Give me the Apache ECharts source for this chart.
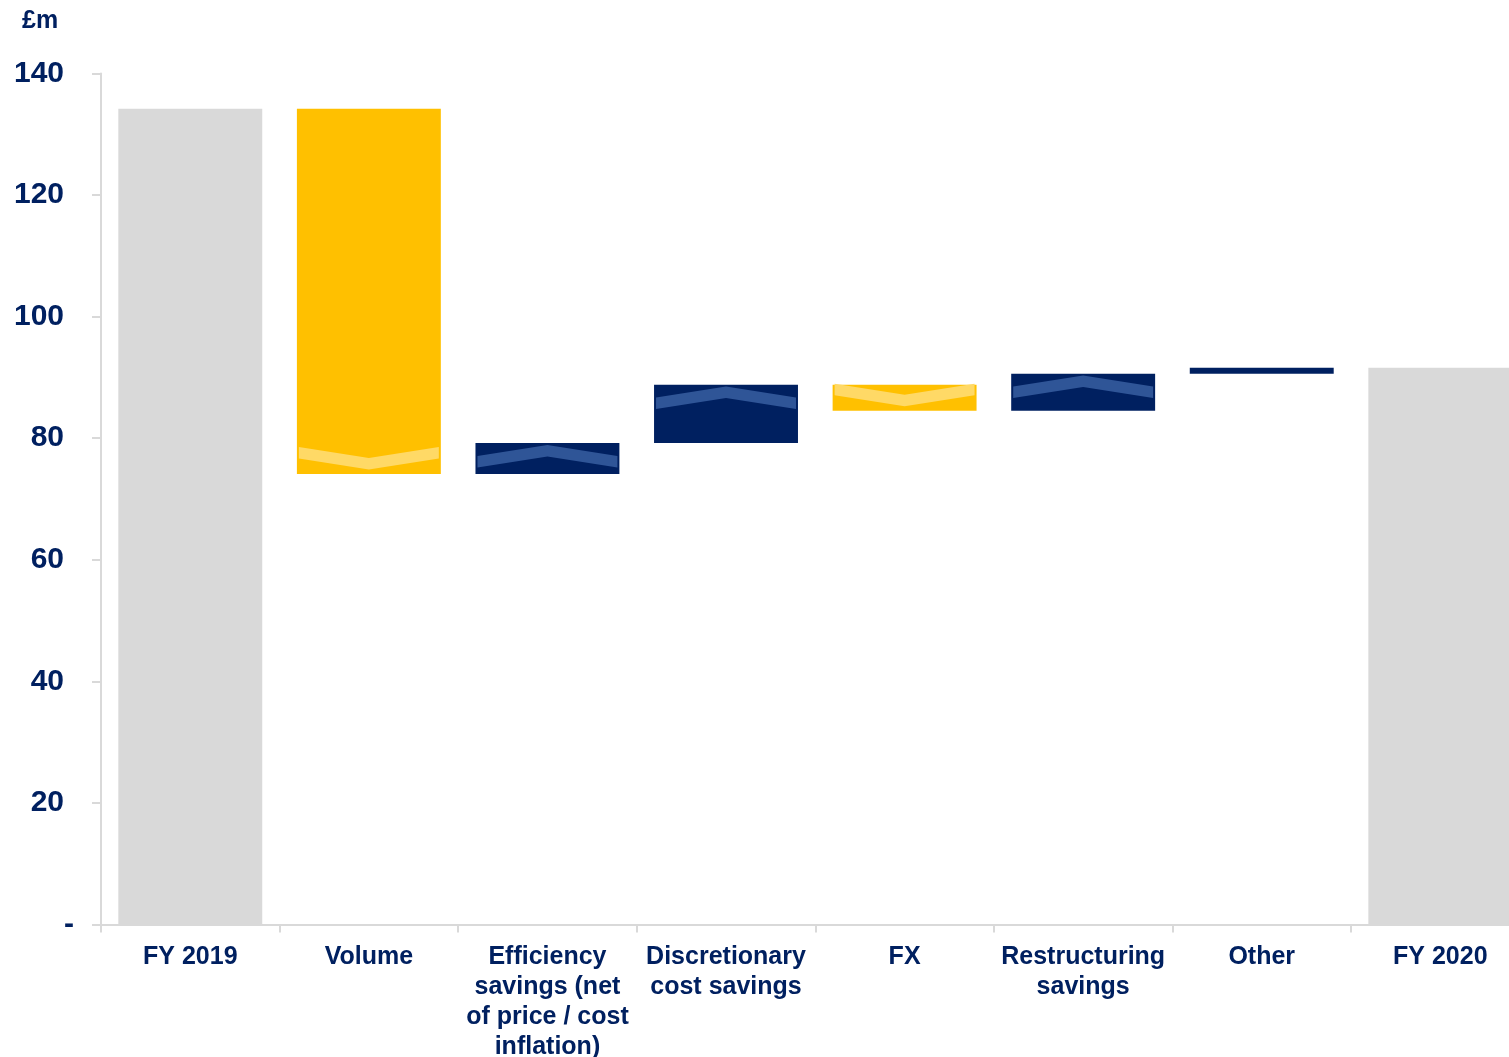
<!DOCTYPE html>
<html>
<head>
<meta charset="utf-8">
<script src="https://cdn.jsdelivr.net/npm/echarts@6/dist/echarts.min.js"></script>
<style>
  html, body { margin: 0; padding: 0; background: #ffffff; }
  #chart { width: 1509px; height: 1057px; }
</style>
</head>
<body>
<div id="chart"></div>
<script>
// ---- Data ----
const categories = [
  'FY 2019',
  'Volume',
  'Efficiency\nsavings (net\nof price / cost\ninflation)',
  'Discretionary\ncost savings',
  'FX',
  'Restructuring\nsavings',
  'Other',
  'FY 2020'
];
const startTotal = 134.2;                          // FY 2019
const changes = [-60.1, 5.1, 9.6, -4.3, 6.1, 1.0]; // Volume .. Other
const endTotal = 91.6;                             // FY 2020
const yTicks = { min: 0, max: 140, interval: 20 };
const unitLabel = '£m';

// ---- Build waterfall rows [index, low, high, kind] ----
const rows = [];
rows.push([0, 0, startTotal, 'total']);
let run = startTotal;
changes.forEach((c, i) => {
  const next = run + c;
  rows.push([i + 1, Math.min(run, next), Math.max(run, next), c < 0 ? 'neg' : 'pos']);
  run = next;
});
rows.push([categories.length - 1, 0, endTotal, 'total']);

const NAVY = '#002060';
const YELLOW = '#FFC000';
const GREY = '#D9D9D9';
const fillFor = { total: GREY, neg: YELLOW, pos: NAVY };
const chevFor = { neg: '#FFD966', pos: '#2F5597' };
const FONT = 'Liberation Sans, Arial, sans-serif';

function renderItem(params, api) {
  const idx = api.value(0);
  const lo = api.value(1);
  const hi = api.value(2);
  const kind = rows[params.dataIndex][3];
  const pTop = api.coord([idx, hi]);
  const pBot = api.coord([idx, lo]);
  const w = api.size([1, 0])[0] * 0.806;
  const left = pTop[0] - w / 2;
  const right = pTop[0] + w / 2;
  const top = pTop[1];
  const bottom = pBot[1];
  const children = [{
    type: 'rect',
    shape: { x: left, y: top, width: w, height: bottom - top },
    style: { fill: fillFor[kind] }
  }];
  if (kind !== 'total' && bottom - top > 20) {
    const x0 = left + 2, x1 = right - 2, xc = pTop[0];
    const d = 11, t = 11.5;
    let pts;
    if (kind === 'pos') {
      const yt = top + 1.8;
      pts = [[x0, yt + d], [xc, yt], [x1, yt + d], [x1, yt + d + t], [xc, yt + t], [x0, yt + d + t]];
    } else {
      const yb = bottom - 4.5;
      pts = [[x0, yb - d - t], [xc, yb - t], [x1, yb - d - t], [x1, yb - d], [xc, yb], [x0, yb - d]];
    }
    children.push({
      type: 'polygon',
      shape: { points: pts },
      style: { fill: chevFor[kind] }
    });
  }
  return { type: 'group', children };
}

const chart = echarts.init(document.getElementById('chart'), null, { renderer: 'canvas' });
chart.setOption({
  animation: false,
  backgroundColor: '#ffffff',
  title: {
    text: unitLabel,
    left: 17,
    top: 4,
    textStyle: { color: NAVY, fontSize: 25, fontWeight: 'bold', fontFamily: FONT }
  },
  grid: {
    left: 101,
    right: -20.6,
    top: 73.5,
    bottom: 132.5,
    containLabel: false,
    outerBoundsMode: 'none'
  },
  xAxis: {
    type: 'category',
    data: categories,
    boundaryGap: true,
    axisLine: { show: true, lineStyle: { color: GREY, width: 2 } },
    axisTick: { show: true, length: 8, alignWithLabel: false, lineStyle: { color: GREY, width: 2 } },
    axisLabel: {
      interval: 0,
      color: NAVY,
      fontSize: 25,
      fontWeight: 'bold',
      fontFamily: FONT,
      lineHeight: 30,
      margin: 18,
      align: 'center'
    },
    splitLine: { show: false }
  },
  yAxis: {
    type: 'value',
    min: yTicks.min,
    max: yTicks.max,
    interval: yTicks.interval,
    axisLine: { show: true, lineStyle: { color: GREY, width: 2 } },
    axisTick: { show: true, length: 9, lineStyle: { color: GREY, width: 2 } },
    splitLine: { show: false },
    axisLabel: {
      margin: 27,
      formatter: v => (v === 0 ? '{d|-}' : '{n|' + v + '}{p|}'),
      rich: {
        n: { color: NAVY, fontSize: 30, fontWeight: 'bold', fontFamily: FONT },
        d: { color: NAVY, fontSize: 30, fontWeight: 'bold', fontFamily: FONT },
        p: { width: 10 }
      }
    }
  },
  series: [{
    type: 'custom',
    renderItem: renderItem,
    encode: { x: 0, y: [1, 2] },
    data: rows.map(r => [r[0], r[1], r[2]]),
    clip: false
  }]
});
</script>
</body>
</html>
